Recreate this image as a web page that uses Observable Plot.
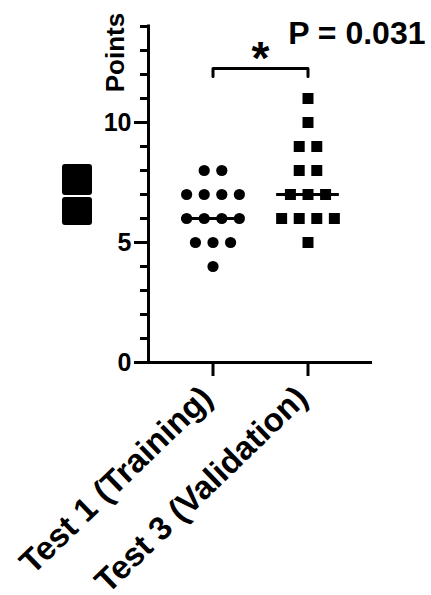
<!DOCTYPE html>
<html><head><meta charset="utf-8">
<script src="https://cdn.jsdelivr.net/npm/d3@7"></script>
<script src="https://cdn.jsdelivr.net/npm/@observablehq/plot@0.6"></script>
<style>
body{margin:0;background:#fff;}
#wrap{position:relative;width:431px;height:595px;}
.blob{position:absolute;background:#000;}
</style></head><body><div id="wrap"></div>
<script>
const categories = ["Test 1 (Training)", "Test 3 (Validation)"];
const test1Points = [8, 8, 7, 7, 7, 7, 6, 6, 6, 6, 5, 5, 5, 4];
const test3Points = [11, 10, 9, 9, 8, 8, 7, 7, 7, 6, 6, 6, 6, 5];
const yMajorTicks = [0, 5, 10];
const yMinorTicks = d3.range(0, 15);
const yDomain = [0, 14];
const pValueLabel = "P = 0.031";
const significanceMark = "*";
const bracketLevel = 12.25;
const bracketDrop = 0.33;

const font = "Liberation Sans, Arial, Helvetica, sans-serif";
const spread = 0.185;     // horizontal step between tied points (x units)
const medianHalf = 0.33;  // half-width of median line
const xDomain = [-0.679, 1.679];

function swarm(values, ci) {
  const groups = d3.group(values, v => v);
  const out = [];
  for (const [v, arr] of groups) {
    const n = arr.length;
    arr.forEach((_, k) => out.push({cat: ci, value: v, x: ci + (k - (n - 1) / 2) * spread}));
  }
  return out;
}
const series = [test1Points, test3Points];
const pts1 = swarm(test1Points, 0);
const pts3 = swarm(test3Points, 1);
const medians = series.map((s, i) => ({cat: i, median: d3.median(s)}));
const bracket = [
  {x: 0, y: bracketLevel - bracketDrop},
  {x: 0, y: bracketLevel},
  {x: 1, y: bracketLevel},
  {x: 1, y: bracketLevel - bracketDrop}
];

const chart = Plot.plot({
  width: 431,
  height: 595,
  marginLeft: 148,
  marginRight: 59,
  marginTop: 26,
  marginBottom: 233,
  style: {fontFamily: font, background: "#fff", color: "#000", overflow: "visible"},
  x: {type: "linear", domain: xDomain},
  y: {domain: yDomain},
  marks: [
    Plot.axisY(yMinorTicks, {tickSize: 8, tickFormat: () => "", strokeWidth: 3, label: null}),
    Plot.axisY(yMajorTicks, {tickSize: 14, tickPadding: 3, fontSize: 25, fontWeight: "bold", strokeWidth: 3, label: null, fontFamily: font}),
    Plot.axisX([0, 1], {tickSize: 14, strokeWidth: 3, tickFormat: () => "", label: null}),
    Plot.axisX([0, 1], {tickFormat: i => categories[i], tickRotate: -44, tickSize: 0, tickPadding: 30, dx: -6, fontSize: 33, fontWeight: "bold", label: null, fontFamily: font}),
    Plot.ruleX([xDomain[0]], {y1: yDomain[0], y2: yDomain[1], strokeWidth: 3, strokeLinecap: "square"}),
    Plot.ruleY([0], {x1: xDomain[0], x2: xDomain[1], strokeWidth: 3}),
    Plot.ruleY(medians, {y: "median", x1: d => d.cat - medianHalf, x2: d => d.cat + medianHalf, strokeWidth: 3}),
    Plot.dot(pts1, {x: "x", y: "value", r: 5.6, fill: "#000", symbol: "circle"}),
    Plot.dot(pts3, {x: "x", y: "value", r: 6.2, fill: "#000", symbol: "square"}),
    Plot.line(bracket, {x: "x", y: "y", strokeWidth: 3}),
    Plot.text([significanceMark], {x: 0.5, y: bracketLevel, dy: 5, lineAnchor: "bottom", textAnchor: "middle", fontSize: 46, fontWeight: "bold", fontFamily: font}),
    Plot.text([pValueLabel], {frameAnchor: "top-right", dx: 53, dy: 17, textAnchor: "end", lineAnchor: "bottom", fontSize: 32, fontWeight: "bold", fontFamily: font}),
    Plot.text(["Points"], {frameAnchor: "top-left", dx: -25, dy: 26, rotate: -90, textAnchor: "middle", lineAnchor: "bottom", fontSize: 26, fontWeight: "bold", fontFamily: font})
  ]
});
const wrap = document.getElementById("wrap");
wrap.appendChild(chart);
// obscured legend blob
[[62, 164, 30, 31], [62, 197, 30, 28]].forEach(([l, t, w, h]) => {
  const b = document.createElement("div");
  b.className = "blob";
  Object.assign(b.style, {left: l + "px", top: t + "px", width: w + "px", height: h + "px", borderRadius: "3px"});
  wrap.appendChild(b);
});
</script></body></html>
